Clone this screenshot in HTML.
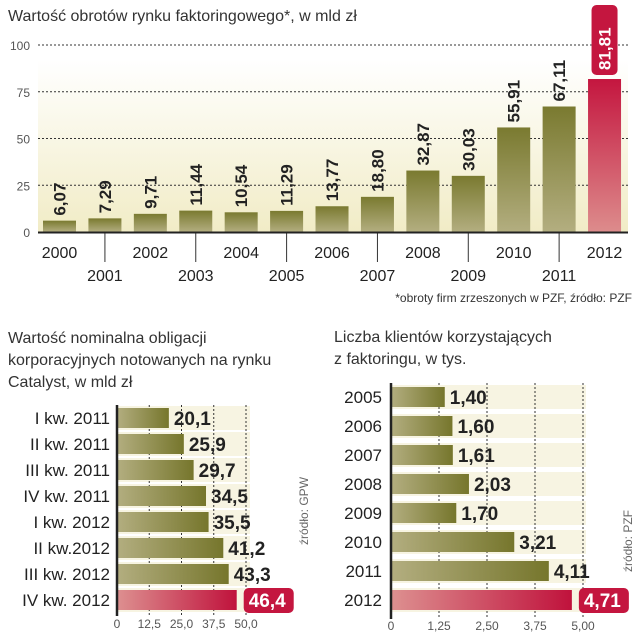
<!DOCTYPE html>
<html><head><meta charset="utf-8"><style>
body{margin:0;background:#fff;}
svg{display:block;font-family:"Liberation Sans",sans-serif;}
.ttl{font-size:16px;fill:#333;}
.tick{font-size:12px;fill:#555;}
.yr{font-size:16px;fill:#222;}
.val{font-size:17px;font-weight:bold;fill:#222;}
</style></head><body>
<svg id="c" width="640" height="640" viewBox="0 0 640 640">
<defs>
<linearGradient id="bgY" x1="0" y1="0" x2="0" y2="1"><stop offset="0" stop-color="#fff"/><stop offset="1" stop-color="#f1ecc6"/></linearGradient>
<linearGradient id="olV" x1="0" y1="0" x2="0" y2="1"><stop offset="0" stop-color="#7a7a30"/><stop offset="1" stop-color="#b3ae80"/></linearGradient>
<linearGradient id="redV" x1="0" y1="0" x2="0" y2="1"><stop offset="0" stop-color="#c4163f"/><stop offset="1" stop-color="#dd8c8c"/></linearGradient>
<linearGradient id="olH" x1="0" y1="0" x2="1" y2="0"><stop offset="0" stop-color="#b3ae80"/><stop offset="1" stop-color="#76762c"/></linearGradient>
<linearGradient id="redH" x1="0" y1="0" x2="1" y2="0"><stop offset="0" stop-color="#dd9090"/><stop offset="1" stop-color="#c0123c"/></linearGradient>
</defs>
<text x="8" y="21" class="ttl">Wartość obrotów rynku faktoringowego*, w mld zł</text>
<rect x="38" y="60" width="590" height="172" fill="url(#bgY)"/>
<g id="top"></g>
<text x="632" y="302" text-anchor="end" style="font-size:12px;fill:#333">*obroty firm zrzeszonych w PZF, źródło: PZF</text>
<text x="8" y="343" class="ttl">Wartość nominalna obligacji</text>
<text x="8" y="365" class="ttl">korporacyjnych notowanych na rynku</text>
<text x="8" y="387" class="ttl">Catalyst, w mld zł</text>
<text x="334" y="342" class="ttl">Liczba klientów korzystających</text>
<text x="334" y="364" class="ttl">z faktoringu, w tys.</text>
<g id="left"></g>
<g id="right"></g>
<text transform="translate(308,545) rotate(-90)" style="font-size:12px;fill:#666">źródło: GPW</text>
<text transform="translate(632,572) rotate(-90)" style="font-size:12px;fill:#666">źródło: PZF</text>
</svg>
<script>
const topYears=["2000","2001","2002","2003","2004","2005","2006","2007","2008","2009","2010","2011","2012"];
const topValues=[6.07,7.29,9.71,11.44,10.54,11.29,13.77,18.80,32.87,30.03,55.91,67.11,81.81];
const topTicks=[0,25,50,75,100];
const leftCats=["I kw. 2011","II kw. 2011","III kw. 2011","IV kw. 2011","I kw. 2012","II kw.2012","III kw. 2012","IV kw. 2012"];
const leftValues=[20.1,25.9,29.7,34.5,35.5,41.2,43.3,46.4];
const leftTicks=[0,12.5,25.0,37.5,50.0];
const rightCats=["2005","2006","2007","2008","2009","2010","2011","2012"];
const rightValues=[1.40,1.60,1.61,2.03,1.70,3.21,4.11,4.71];
const rightTicks=[0,1.25,2.50,3.75,5.00];
const NS="http://www.w3.org/2000/svg";
function mk(p,t,a){const e=document.createElementNS(NS,t);for(const k in a)e.setAttribute(k,a[k]);p.appendChild(e);return e;}
const fmt=(v,d)=>v.toFixed(d).replace('.',',');
const T=document.getElementById('top');
const ty=v=>232-v*1.87, tx=i=>43+i*45.42;
topTicks.forEach(t=>{
  const tl=mk(T,'text',{x:30,y:ty(t)+5,'text-anchor':'end',class:'tick'});tl.textContent=t;
  
  
  if(t>0){const g=mk(T,'line',{x1:38,x2:628,y1:ty(t),y2:ty(t),stroke:'#333','stroke-dasharray':'2,2','stroke-width':1});
  
  }
});
topValues.forEach((v,i)=>{
  const last=i===topValues.length-1;
  const b=mk(T,'rect',{x:tx(i),y:ty(v),width:33,height:232-ty(v),fill:last?'url(#redV)':'url(#olV)'});
  
  
  const cx=tx(i)+16.5;
  let by=ty(v)-5;
  if(last){by=ty(v)-8;const r=mk(T,'rect',{x:cx-13,y:by-66,width:26,height:70,rx:5,fill:'#c4163f'});
    
    }
  const l=mk(T,'text',{transform:`translate(${cx+6},${last?by-1:by}) rotate(-90)`,class:'val',style:last?'fill:#fff':''});
  l.textContent=fmt(v,2);
  
  
  const odd=i%2===1;
  if(odd){const tk=mk(T,'line',{x1:cx,x2:cx,y1:232,y2:262,stroke:'#333','stroke-width':1});
    
    }
  const yl=mk(T,'text',{x:cx,y:odd?281:258,'text-anchor':'middle',class:'yr'});yl.textContent=topYears[i];
  
  
});
const ax=mk(T,'line',{x1:38,x2:628,y1:232.5,y2:232.5,stroke:'#222','stroke-width':2});


function hbar(id,cats,vals,ticks,x0,scale,y0,pitch,bh,dec,gridTop,labX,tickY,bandW){
  const G=document.getElementById(id);
  const xs=v=>x0+v*scale;
  cats.forEach((c,i)=>{const band=mk(G,'rect',{x:x0,y:y0+i*pitch-2,width:bandW,height:bh+4,fill:'#f7f4e2'});
    
    });
  ticks.forEach(t=>{
    if(t>0){const g=mk(G,'line',{x1:xs(t),x2:xs(t),y1:gridTop,y2:y0+cats.length*pitch,stroke:'#333','stroke-dasharray':'2,2'});
      
      }
    const tl=mk(G,'text',{x:xs(t),y:tickY,'text-anchor':'middle',class:'tick'});tl.textContent=t===0?'0':fmt(t,dec);
    
    
  });
  vals.forEach((v,i)=>{
    const last=i===vals.length-1, y=y0+i*pitch;
    const b=mk(G,'rect',{x:x0,y:y,width:xs(v)-x0,height:bh,fill:last?'url(#redH)':'url(#olH)'});
    
    
    const cl=mk(G,'text',{x:labX,y:y+bh/2+6,'text-anchor':'end',class:'yr',style:'font-size:17px'});cl.textContent=cats[i];
    
    
    const s=id==='left'?fmt(v,1):fmt(v,2);
    if(last){const r=mk(G,'rect',{x:xs(v)+7,y:y-2,width:s.length*10+10,height:bh+5,rx:5,fill:'#c4163f'});
      
      }
    const l=mk(G,'text',{x:xs(v)+(last?12:5),y:y+bh/2+7,class:'val',style:'font-size:19px'+(last?';fill:#fff':'')});l.textContent=s;
    
    
  });
  const a=mk(G,'line',{x1:x0,x2:x0,y1:gridTop,y2:y0+cats.length*pitch,stroke:'#222','stroke-width':2.5});
  
  
}
hbar('left',leftCats,leftValues,leftTicks,117,2.58,408,26,20,1,405,110,628,133);
hbar('right',rightCats,rightValues,rightTicks,391,38.4,387,29,20,2,383,382,630,195);
</script>
</body></html>
